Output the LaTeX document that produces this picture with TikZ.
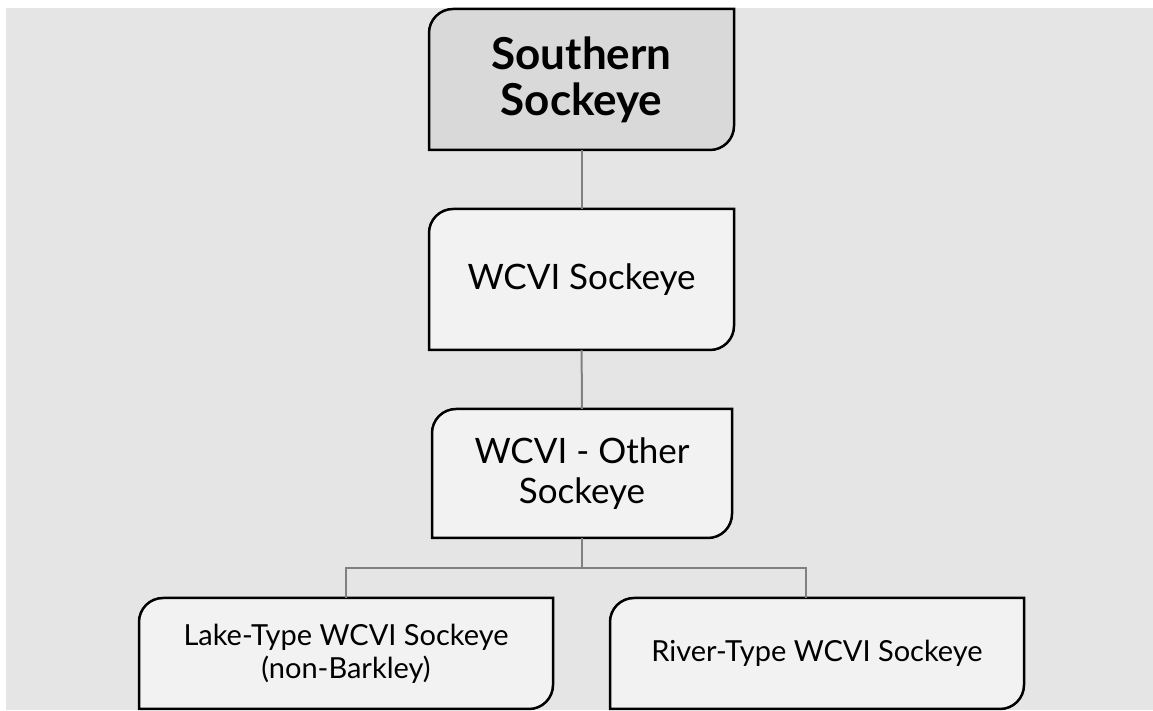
\documentclass[tikz,border=0pt]{standalone}
\usepackage{fontspec}
\setmainfont{Lato}
\usepackage{tikz}
\usetikzlibrary{positioning, backgrounds, calc}
\definecolor{cBG}{HTML}{E5E5E5}
\definecolor{cTOP}{HTML}{D9D9D9}
\definecolor{cBOX}{HTML}{F2F2F2}
\definecolor{cLINK}{HTML}{808080}

\begin{document}
\begin{tikzpicture}[
  x=1pt, y=1pt,
  box/.style={minimum width=#1, inner sep=0pt, outer sep=0pt, align=center},
  big/.style={font=\fontsize{44}{46}\selectfont\bfseries},
  mid/.style={font=\fontsize{35}{40}\selectfont},
  small/.style={font=\fontsize{29}{33}\selectfont},
  outline/.style={draw=black, line width=2.5pt},
  link/.style={draw=cLINK, line width=2pt}
]
\useasboundingbox (0,0) rectangle (1153,711);

\node[box=305, minimum height=141, big] (south) at (581.5,631.5) {Southern\\Sockeye};
\node[box=305, minimum height=141, mid] (wcvi) at (581.5,431.5) {WCVI Sockeye};
\node[box=300, minimum height=129, mid] (other) at (582,237.5) {WCVI - Other\\Sockeye};
\node[box=414, minimum height=111, small] (lake) at (346,57.5) {Lake-Type WCVI Sockeye\\(non-Barkley)};
\node[box=414, minimum height=111, small] (river) at (817,57.5) {River-Type WCVI Sockeye};
\coordinate (fork) at (582,143);

\begin{scope}[on background layer]
\fill[cBG] (6,1) rectangle (1153,703);
\foreach \n/\c in {south/cTOP, wcvi/cBOX, other/cBOX, lake/cBOX, river/cBOX}
  \draw[outline, fill=\c] (\n.south west) -- ([yshift=-24pt]\n.north west)
    arc[start angle=180, end angle=90, radius=24pt] -- (\n.north east)
    -- ([yshift=24pt]\n.south east) arc[start angle=0, end angle=-90, radius=24pt] -- cycle;
\end{scope}

\draw[link] (south) -- (wcvi);
\draw[link] (wcvi) -- (other);
\draw[link] (other) -- (fork);
\draw[link] (lake.north) |- (fork) -| ([xshift=-11pt]river.north);
\end{tikzpicture}
\end{document}
